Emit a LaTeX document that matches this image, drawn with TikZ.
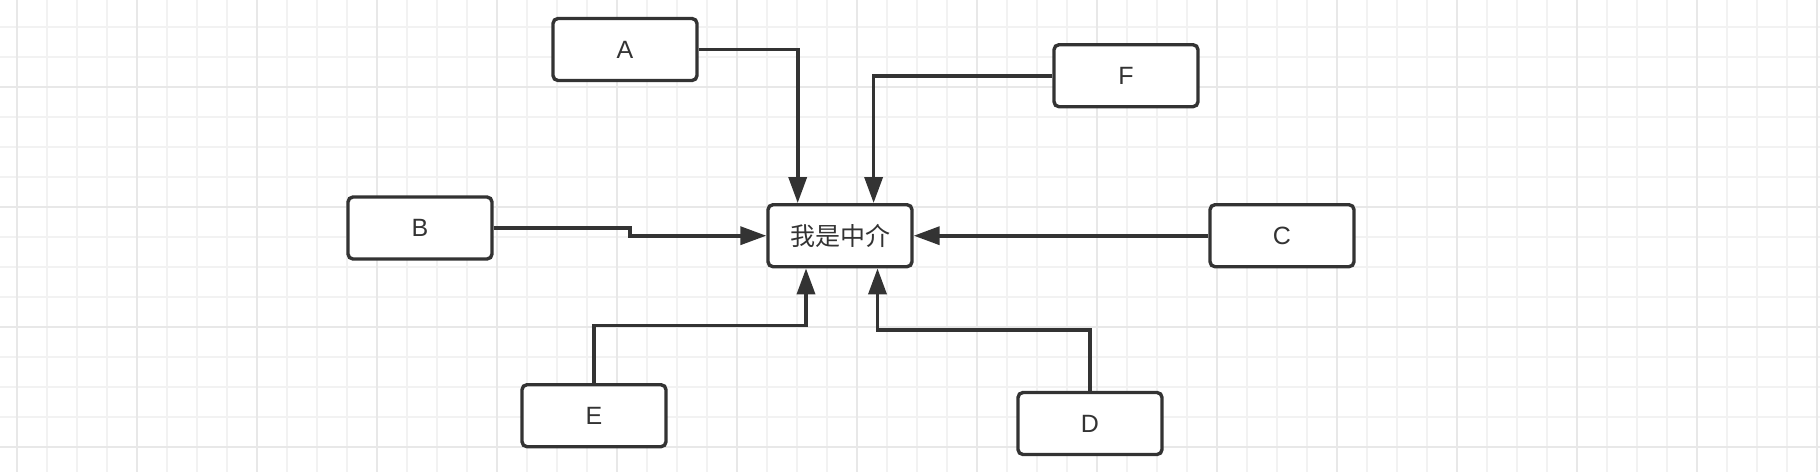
\documentclass[tikz,border=0pt]{standalone}
\usepackage{fontspec}
\setmainfont{Liberation Sans}
\newfontfamily\cjk{Noto Sans CJK SC}
\usetikzlibrary{arrows.meta,calc}
\definecolor{ink}{HTML}{333333}
\definecolor{gridminor}{HTML}{F2F2F2}
\definecolor{gridmajor}{HTML}{E8E8E8}
\begin{document}
\begin{tikzpicture}[x=1pt,y=-1pt,
  box/.style={draw=ink, line width=3.4pt, rounded corners=5pt, fill=white,
    minimum width=144pt, minimum height=62pt, inner sep=0pt, text=ink,
    font=\fontsize{25}{30}\selectfont},
  conn/.style={draw=ink, line width=3.6pt, -{Triangle[length=26pt,width=18pt]}},
  minorline/.style={draw=gridminor, line width=2pt},
  majorline/.style={draw=gridmajor, line width=2.2pt}]
\useasboundingbox (0,0) rectangle (1820,472);
\fill[white] (0,0) rectangle (1820,472);
% grid
\foreach \i in {0,...,60} \draw[minorline] (16.7+30*\i,0) -- (16.7+30*\i,472);
\foreach \j in {0,...,14} \draw[minorline] (0,26.7+30*\j) -- (1820,26.7+30*\j);
\foreach \i in {0,...,15} \draw[majorline] (16.7+120*\i,0) -- (16.7+120*\i,472);
\foreach \j in {0,...,3} \draw[majorline] (0,86.7+120*\j) -- (1820,86.7+120*\j);
% nodes
\node[box] (A) at (625,49.5) {A};
\node[box] (F) at (1126,75.7) {F};
\node[box] (B) at (420,228) {B};
\node[box] (M) at (840,235.7) {\cjk 我是中介};
\node[box] (C) at (1282,235.7) {C};
\node[box] (E) at (594,415.7) {E};
\node[box] (D) at (1090,423.5) {D};
\coordinate (bstep) at (630,0);
% connectors
\draw[conn] (A.east) -| ([xshift=-42.3pt]M.north);
\draw[conn] (F.west) -| ([xshift=33.6pt]M.north);
\draw[conn] (B.east) -| (bstep |- M.west) -- (M.west);
\draw[conn] (C.west) -- (M.east);
\draw[conn] (E.north) -- ++(0,-57.5) -| ([xshift=-34pt]M.south);
\draw[conn] (D.north) -- ++(0,-61) -| ([xshift=37.5pt]M.south);
\end{tikzpicture}
\end{document}
